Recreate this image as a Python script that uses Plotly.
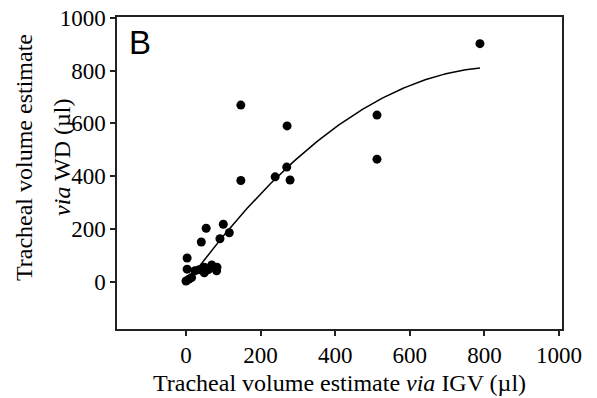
import numpy as np
import plotly.graph_objects as go

# Data (µl)
igv = [788, 512, 512, 147, 271, 270, 239, 279, 147, 100, 54, 116, 91, 41,
       3, 3, 24, 49, 49, 69, 83, 82, 8, 0, 15, 35, 60]
wd = [902, 631, 464, 669, 590, 434, 397, 385, 383, 217, 202, 185, 162, 150,
      89, 47, 41, 54, 33, 63, 54, 41, 9, 2, 15, 45, 45]

# Quadratic fit coefficients: y = a + b x + c x^2
fit_a, fit_b, fit_c = -9.94, 1.9409, -0.0011426
fit_x_start, fit_x_end = 30, 788

x_ticks = [0, 200, 400, 600, 800, 1000]
y_ticks = [0, 200, 400, 600, 800, 1000]

fx = np.linspace(fit_x_start, fit_x_end, 200)
fy = fit_a + fit_b * fx + fit_c * fx ** 2

serif = "Liberation Serif, Times New Roman, serif"

fig = go.Figure()
fig.add_trace(go.Scatter(x=fx, y=fy, mode="lines",
                         line=dict(color="black", width=1.5),
                         hoverinfo="skip", showlegend=False))
fig.add_trace(go.Scatter(x=igv, y=wd, mode="markers",
                         marker=dict(color="black", size=9, line=dict(width=0)),
                         showlegend=False))

axis_common = dict(showline=True, linecolor="#222", linewidth=1.5, mirror=True,
                   ticks="outside", ticklen=5, tickwidth=1.5, tickcolor="#222",
                   showgrid=False, zeroline=False, automargin=False,
                   tickfont=dict(family=serif, size=23, color="black"))

fig.update_xaxes(range=[-185, 1008], tickvals=x_ticks,
                 ticktext=[str(v) for v in x_ticks], **axis_common)
fig.update_yaxes(range=[-180, 1003], tickvals=y_ticks,
                 ticktext=[str(v) for v in y_ticks], **axis_common)

fig.update_layout(
    width=597, height=398,
    margin=dict(l=117, r=35, t=17, b=69, autoexpand=False),
    plot_bgcolor="white", paper_bgcolor="white",
    annotations=[
        dict(text="B", xref="paper", yref="paper", x=0.023, y=0.985,
             xanchor="left", yanchor="top", showarrow=False,
             font=dict(family="Liberation Sans, Arial, sans-serif", size=33, color="black")),
        dict(text="Tracheal volume estimate <i>via</i> IGV (µl)",
             xref="paper", yref="paper", x=0.501, y=-0.173,
             xanchor="center", yanchor="middle", showarrow=False,
             font=dict(family=serif, size=24, color="black")),
        dict(text="Tracheal volume estimate", textangle=-90,
             xref="paper", yref="paper", x=-0.209, y=0.551,
             xanchor="center", yanchor="middle", showarrow=False,
             font=dict(family=serif, size=24, color="black")),
        dict(text="<i>via</i> WD (µl)", textangle=-90,
             xref="paper", yref="paper", x=-0.124, y=0.551,
             xanchor="center", yanchor="middle", showarrow=False,
             font=dict(family=serif, size=24, color="black")),
    ],
)

fig.write_html("out.html",
               config={"displayModeBar": False},
               post_script="document.body.style.margin='0';"
                           "document.body.style.overflow='hidden';")
